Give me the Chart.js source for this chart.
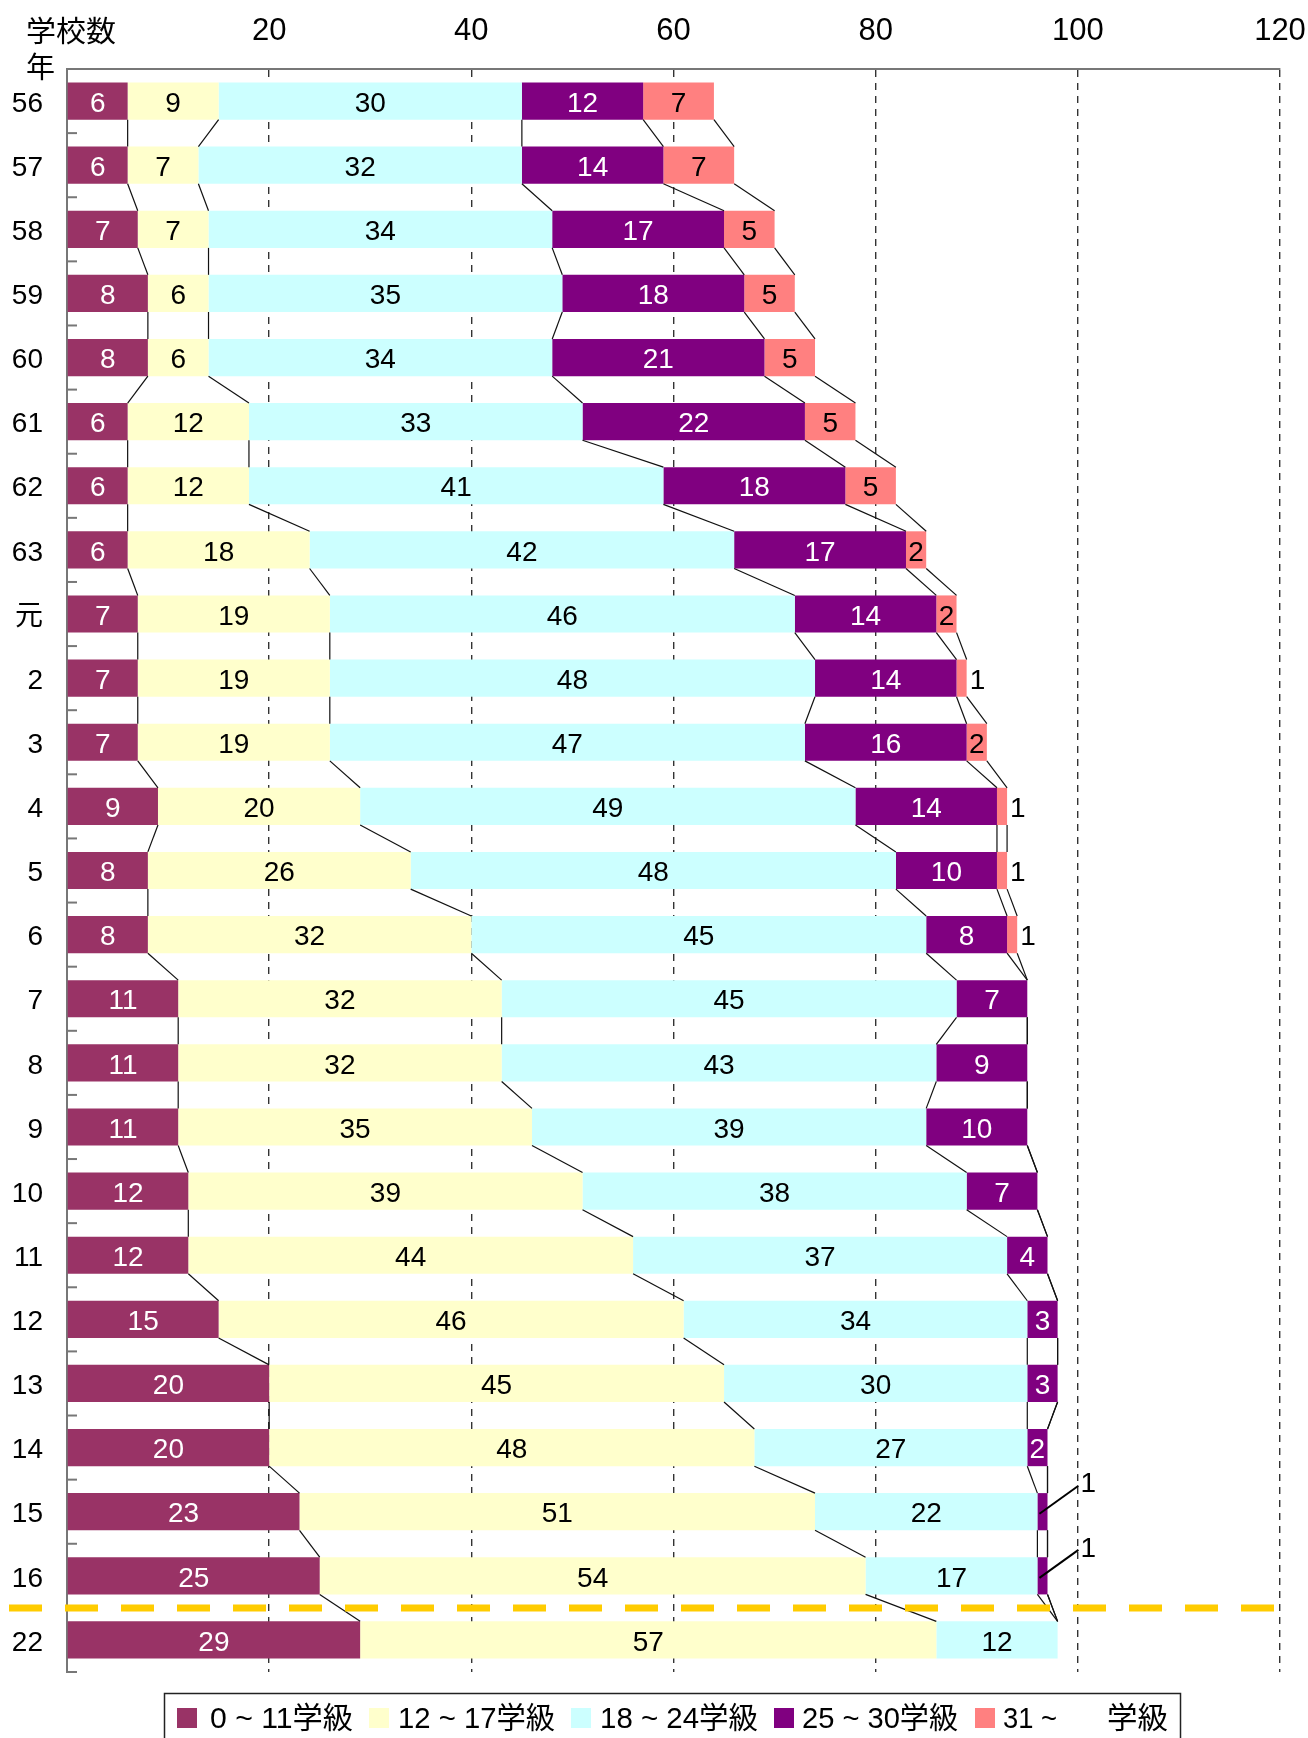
<!DOCTYPE html>
<html>
<head>
<meta charset="utf-8">
<script src="https://cdn.jsdelivr.net/npm/chart.js@4.4.1/dist/chart.umd.min.js"></script>
<style>
  html, body { margin: 0; padding: 0; background: #fff; }
  canvas { display: block; }
</style>
</head>
<body>
<canvas id="chart" width="1308" height="1738"></canvas>
<script>
const years = ['56','57','58','59','60','61','62','63','元','2','3','4','5','6','7','8','9','10','11','12','13','14','15','16','22'];

const class0to11  = [6,6,7,8,8,6,6,6,7,7,7,9,8,8,11,11,11,12,12,15,20,20,23,25,29];
const class12to17 = [9,7,7,6,6,12,12,18,19,19,19,20,26,32,32,32,35,39,44,46,45,48,51,54,57];
const class18to24 = [30,32,34,35,34,33,41,42,46,48,47,49,48,45,45,43,39,38,37,34,30,27,22,17,12];
const class25to30 = [12,14,17,18,21,22,18,17,14,14,16,14,10,8,7,9,10,7,4,3,3,2,1,1,0];
const class31up   = [7,7,5,5,5,5,5,2,2,1,2,1,1,1,0,0,0,0,0,0,0,0,0,0,0];

const seriesNames = ['0 ~ 11学級', '12 ~ 17学級', '18 ~ 24学級', '25 ~ 30学級', '31 ~'];
const xTicks = [20, 40, 60, 80, 100, 120];

const colors = ['#993366', '#FFFFCC', '#CCFFFF', '#800080', '#FF8080'];
const textColors = ['#fff', '#000', '#000', '#fff', '#000'];

const FONT = "'Liberation Sans', Arial, 'Noto Sans CJK JP', sans-serif";
const CJK = "'Noto Sans CJK JP', 'Liberation Sans', sans-serif";
Chart.defaults.font.family = FONT;
Chart.defaults.font.size = 28;
Chart.defaults.color = '#000';

// draws text squeezed/stretched to a given width
function fitText(ctx, text, x, y, width) {
    const w = ctx.measureText(text).width;
    ctx.save();
    ctx.translate(x, y);
    ctx.scale(width / w, 1);
    ctx.fillText(text, 0, 0);
    ctx.restore();
}

// labels, series lines, header, separator and legend
const extras = {
    id: 'extras',
    afterDatasetsDraw(chart) {
        const ctx = chart.ctx;
        const area = chart.chartArea;
        const metas = chart.data.datasets.map((d, i) => chart.getDatasetMeta(i));
        const n = years.length;

        // series lines between neighbouring bars
        ctx.save();
        ctx.strokeStyle = '#111';
        ctx.lineWidth = 1.2;
        metas.forEach(meta => {
            for (let i = 0; i < n - 1; i++) {
                const a = meta.data[i], b = meta.data[i + 1];
                ctx.beginPath();
                ctx.moveTo(a.x, a.y + a.height / 2);
                ctx.lineTo(b.x, b.y - b.height / 2);
                ctx.stroke();
            }
        });
        ctx.restore();

        // inward ticks on the category axis
        ctx.save();
        ctx.strokeStyle = '#777';
        ctx.lineWidth = 2;
        const ys = chart.scales.y;
        for (let i = 0; i < n; i++) {
            const yb = i < n - 1 ? (ys.getPixelForValue(i) + ys.getPixelForValue(i + 1)) / 2 : area.bottom;
            ctx.beginPath();
            ctx.moveTo(area.left, yb);
            ctx.lineTo(area.left + 10, yb);
            ctx.stroke();
        }
        ctx.restore();

        // value labels
        ctx.save();
        ctx.font = '28px ' + FONT;
        ctx.textBaseline = 'middle';
        metas.forEach((meta, d) => {
            const vals = chart.data.datasets[d].data;
            meta.data.forEach((el, i) => {
                const v = vals[i];
                if (!v) return;
                const cx = (el.x + el.base) / 2;
                if (v === 1 && d === 4) {
                    ctx.fillStyle = '#000';
                    ctx.textAlign = 'left';
                    ctx.fillText(v, el.x + 3, el.y + 3);
                } else if (v === 1 && d === 3) {
                    ctx.strokeStyle = '#000';
                    ctx.lineWidth = 2;
                    ctx.beginPath();
                    ctx.moveTo(cx - 3, el.y + 2);
                    ctx.lineTo(cx + 36, el.y - 26);
                    ctx.stroke();
                    ctx.fillStyle = '#000';
                    ctx.textAlign = 'left';
                    ctx.fillText(v, cx + 38, el.y - 27);
                } else {
                    ctx.fillStyle = textColors[d];
                    ctx.textAlign = 'center';
                    ctx.fillText(v, cx, el.y + 3);
                }
            });
        });
        ctx.restore();
    },
    afterDraw(chart) {
        const ctx = chart.ctx;
        const ys = chart.scales.y;

        // header
        ctx.save();
        ctx.font = '29px ' + CJK;
        ctx.fillStyle = '#000';
        ctx.textAlign = 'left';
        ctx.textBaseline = 'middle';
        fitText(ctx, '学校数', 26, 31, 90);
        ctx.fillText('年', 26, 67);
        ctx.restore();

        // dashed separator before the last row
        const sepY = (ys.getPixelForValue(years.length - 2) + ys.getPixelForValue(years.length - 1)) / 2;
        ctx.save();
        ctx.strokeStyle = '#FFCC00';
        ctx.lineWidth = 7;
        ctx.setLineDash([33, 23]);
        ctx.beginPath();
        ctx.moveTo(9, sepY);
        ctx.lineTo(1274, sepY);
        ctx.stroke();
        ctx.restore();

        // legend
        ctx.save();
        ctx.strokeStyle = '#222';
        ctx.lineWidth = 1.5;
        ctx.strokeRect(164.5, 1693.5, 1016, 80);
        const swatchX = [177, 369, 571, 774, 975];
        const textX = [210, 398, 600, 802, 1003];
        const textW = [143, 157, 158, 156, 54];
        ctx.font = '30px ' + FONT;
        ctx.textBaseline = 'middle';
        ctx.textAlign = 'left';
        seriesNames.forEach((name, i) => {
            ctx.fillStyle = colors[i];
            ctx.fillRect(swatchX[i], 1708, 20, 20);
            ctx.fillStyle = '#000';
            fitText(ctx, name, textX[i], 1720, textW[i]);
        });
        fitText(ctx, '学級', 1107, 1720, 61);
        ctx.restore();
    }
};

const chart = new Chart(document.getElementById('chart'), {
    type: 'bar',
    data: {
        labels: years,
        datasets: [class0to11, class12to17, class18to24, class25to30, class31up].map((data, i) => ({
            label: seriesNames[i],
            data: data,
            backgroundColor: colors[i],
            borderWidth: 0,
            barPercentage: 0.58,
            categoryPercentage: 1
        }))
    },
    options: {
        indexAxis: 'y',
        responsive: false,
        devicePixelRatio: 1,
        animation: false,
        layout: { padding: { left: 0, top: 0, right: 28, bottom: 66 } },
        plugins: {
            legend: { display: false },
            tooltip: { enabled: false }
        },
        scales: {
            x: {
                type: 'linear',
                position: 'top',
                stacked: true,
                min: 0,
                max: 120,
                afterFit: s => { s.height = 69; s.paddingLeft = 0; s.paddingRight = 0; },
                afterBuildTicks: s => { s.ticks = [0].concat(xTicks).map(v => ({ value: v })); },
                ticks: {
                    padding: 19,
                    font: { size: 31 },
                    callback: v => v === 0 ? '' : v
                },
                grid: {
                    drawTicks: false,
                    color: c => c.tick && c.tick.value === 0 ? 'rgba(0,0,0,0)' : '#333',
                    lineWidth: 1.4
                },
                border: { display: true, color: '#777', width: 2, dash: [7, 6] }
            },
            y: {
                type: 'category',
                stacked: true,
                afterFit: s => { s.width = 67; },
                ticks: { padding: 24, labelOffset: 3 },
                grid: { display: false, drawTicks: false },
                border: { display: true, color: '#777', width: 2 }
            }
        }
    },
    plugins: [extras]
});
</script>
</body>
</html>
